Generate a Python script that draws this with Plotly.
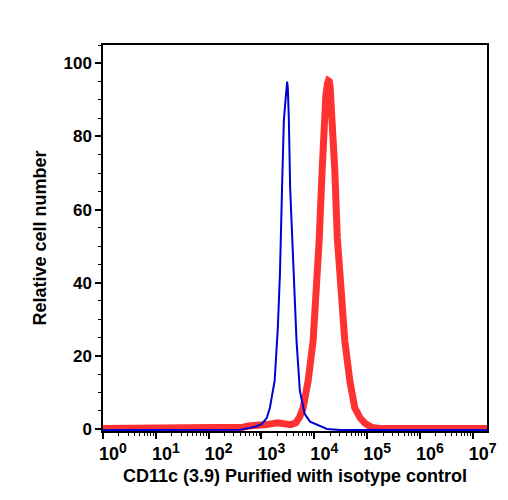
import plotly.graph_objects as go

# log10 of fluorescence intensity and relative cell number
blue_log_x = [0.0, 1.0, 2.0, 2.6, 2.78, 2.9, 3.01, 3.1, 3.16, 3.25, 3.31, 3.35, 3.39, 3.424, 3.46, 3.487,
              3.50, 3.519, 3.543, 3.59, 3.63, 3.664, 3.727, 3.82, 3.92, 4.01, 4.12, 4.24, 4.5, 5.5, 6.5, 7.3]
blue_y = [-0.3, -0.3, -0.3, -0.2, 0.3, 0.7, 1.4, 3.0, 5.8, 13.2, 27.7, 42.5, 66.0, 84.4, 90.7, 95.0,
          93.0, 84.4, 66.0, 50.0, 37.0, 24.1, 10.4, 4.1, 2.0, 1.4, 0.6, 0.0, -0.3, -0.3, -0.3, -0.3]

red_log_x = [0.0, 1.0, 2.0, 2.55, 2.65, 2.75, 2.9, 3.1, 3.3, 3.45, 3.55, 3.65, 3.72, 3.789, 3.884, 3.978,
             4.043, 4.092, 4.149, 4.187, 4.219, 4.25, 4.266, 4.285, 4.30, 4.345, 4.389, 4.436, 4.497, 4.578, 4.673,
             4.767, 4.87, 4.956, 5.09, 5.3, 6.0, 7.0, 7.3]
red_y = [0.1, 0.1, 0.1, 0.1, 0.5, 0.8, 0.9, 1.2, 1.7, 1.6, 1.2, 1.7, 3.2, 5.8, 13.2, 24.1,
         37.8, 51.5, 70.7, 84.4, 91.2, 94.5, 95.2, 95.0, 93.5, 84.4, 70.7, 52.3, 37.8, 24.1, 13.2,
         5.8, 3.0, 1.6, 0.4, 0.1, 0.1, 0.1, 0.1]

x_tick_exponents = [0, 1, 2, 3, 4, 5, 6, 7]
y_ticks = [0, 20, 40, 60, 80, 100]

x_title = "CD11c (3.9) Purified with isotype control"
y_title = "Relative cell number"

fig = go.Figure()
fig.add_trace(go.Scatter(x=[10 ** v for v in red_log_x], y=red_y, mode="lines",
                         line=dict(color="rgb(255,50,50)", width=7),
                         hoverinfo="skip", showlegend=False))
fig.add_trace(go.Scatter(x=[10 ** v for v in blue_log_x], y=blue_y, mode="lines",
                         line=dict(color="rgb(0,0,215)", width=2),
                         hoverinfo="skip", showlegend=False))

font_family = "Liberation Sans, Arial, sans-serif"
fig.update_layout(
    width=508, height=500,
    margin=dict(l=103, r=21, t=45, b=69),
    plot_bgcolor="white", paper_bgcolor="white",
    font=dict(family=font_family, color="black"),
    showlegend=False,
)
fig.update_xaxes(
    type="log", range=[0, 7.27],
    tickmode="array",
    tickvals=[10 ** e for e in x_tick_exponents],
    ticktext=[f'10<sup><span style="font-size:14px">{e}</span></sup>' for e in x_tick_exponents],
    ticks="outside", ticklen=6, tickwidth=1.5, tickcolor="black",
    ticklabelshift=10,
    minor=dict(ticks="outside", ticklen=3, tickwidth=1, tickcolor="black", dtick="D1"),
    showline=True, linecolor="black", linewidth=1.5, mirror=True,
    showgrid=False, zeroline=False,
    tickfont=dict(size=18, weight="bold", family=font_family),
    title=dict(text=x_title, font=dict(size=18, weight="bold", family=font_family), standoff=6),
)
fig.update_yaxes(
    range=[-0.55, 105],
    tickmode="array", tickvals=y_ticks,
    ticks="outside", ticklen=6, tickwidth=1.5, tickcolor="black",
    minor=dict(ticks="outside", ticklen=3, tickwidth=1, tickcolor="black", dtick=5),
    showline=True, linecolor="black", linewidth=1.5, mirror=True,
    showgrid=False, zeroline=False,
    tickfont=dict(size=17, weight="bold", family=font_family),
    title=dict(text=y_title, font=dict(size=18, weight="bold", family=font_family), standoff=12),
)

fig.write_html("out.html")
